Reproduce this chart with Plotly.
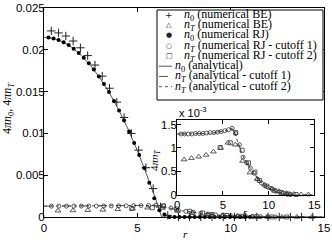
import plotly.graph_objects as go

# ---------------- data ----------------
# n0 numerical BE (+)
r_be = [0.39, 0.78, 1.17, 1.56, 1.95, 2.34, 2.73, 3.12, 3.51, 3.90, 4.29, 4.68, 5.07, 5.46, 5.85,
        6.24, 6.63, 7.2, 7.8, 8.4, 9.0, 9.6, 10.2, 10.8, 11.4, 12.0, 12.6, 13.2, 13.8, 14.4]
n0_be = [0.02226, 0.02202, 0.02165, 0.02105, 0.02024, 0.01931, 0.01818, 0.01685, 0.01540, 0.01374,
         0.01190, 0.01000, 0.00800, 0.00590, 0.00340, 0.00120, 0.00020, 0, 0, 0, 0, 0, 0, 0, 0, 0,
         0, 0, 0, 0]

# nT numerical BE (triangles)
r_tbe = [0.75, 1.55, 2.35, 3.15, 3.95, 4.75, 5.55, 6.35, 7.15, 7.95, 8.75, 9.55, 10.35, 11.15,
         11.95, 12.75, 13.55, 14.35]
nT_be = [0.00075, 0.00078, 0.00081, 0.00085, 0.00092, 0.00100, 0.00111, 0.00107, 0.00072, 0.00047,
         0.00033, 0.00021, 0.00013, 0.00007, 0.00003, 0.00001, 0, 0]

# n0 numerical RJ (filled dots)
r_rj = [0.24, 0.51, 0.78, 1.05, 1.32, 1.59, 1.86, 2.13, 2.40, 2.67, 2.94, 3.21, 3.48, 3.75, 4.02,
        4.29, 4.56, 4.83, 5.10, 5.37, 5.64, 5.91, 6.18, 6.45, 6.72, 6.99, 7.26, 7.53, 7.80, 8.07,
        8.34, 8.61, 8.88, 9.15, 9.42, 9.69, 9.96, 10.23, 10.50, 10.77, 11.04]
n0_rj = [0.02147, 0.02136, 0.02117, 0.02090, 0.02056, 0.02013, 0.01963, 0.01904, 0.01838, 0.01764,
         0.01682, 0.01592, 0.01494, 0.01388, 0.01275, 0.01153, 0.01024, 0.00886, 0.00741, 0.00585,
         0.00410, 0.00225, 0.00080, 0.00030, 0, 0, 0, 0, 0, 0, 0, 0, 0, 0, 0, 0, 0, 0, 0, 0, 0]

# nT numerical RJ cutoff 1 (open circles)
r_c1 = [0.4, 0.8, 1.2, 1.6, 2.0, 2.4, 2.8, 3.2, 3.6, 4.0, 4.4, 4.8, 5.2, 5.6, 6.0, 6.4, 6.8, 7.2,
        7.6, 8.0, 8.4, 8.8, 9.2, 9.6, 10.0, 10.4, 10.8, 11.2, 11.6, 12.0, 12.4]
nT_c1 = [0.00130, 0.00130, 0.00130, 0.00130, 0.00131, 0.00131, 0.00131, 0.00132, 0.00133, 0.00133,
         0.00134, 0.00135, 0.00137, 0.00139, 0.00142, 0.00131, 0.00107, 0.00080, 0.00068, 0.00057,
         0.00046, 0.00033, 0.00025, 0.00019, 0.00015, 0.00011, 0.00007, 0.00005, 0.00003, 0.00001, 0]

# nT numerical RJ cutoff 2 (open squares)
r_c2 = [4.7, 5.8, 6.4, 7.1, 7.8, 8.5, 9.0, 9.8, 10.6, 11.4, 12.2, 13.0]
nT_c2 = [0.00101, 0.00111, 0.00133, 0.00095, 0.00068, 0.00048, 0.00030, 0.00018, 0.00009, 0.00004,
         0.00001, 0]

# analytical n0 (solid)
r_n0a = [0, 0.5, 1, 1.5, 2, 2.5, 3, 3.5, 4, 4.5, 5, 5.5, 5.75, 6.0, 6.15, 6.3, 15]
n0_a = [0.0215, 0.02136, 0.02096, 0.02028, 0.01933, 0.01811, 0.01662, 0.01486, 0.01283, 0.01053,
        0.00796, 0.00511, 0.00359, 0.00200, 0.00101, 0, 0]

# analytical nT cutoff 1 (dashed) and cutoff 2 (dotted)
r_nTa = [0, 1, 2, 3, 4, 5, 5.5, 5.8, 6.0, 6.2, 6.5, 7, 7.5, 8, 8.5, 9, 9.5, 10, 10.5, 11, 11.5,
         12, 13, 15]
nT_a1 = [0.00130, 0.00130, 0.00131, 0.00131, 0.00133, 0.00136, 0.00138, 0.00141, 0.00142, 0.00137,
         0.00122, 0.00092, 0.00072, 0.00057, 0.00043, 0.00030, 0.00021, 0.00014, 0.00009, 0.00005,
         0.000025, 0.00001, 0, 0]
nT_a2 = [0.00130, 0.00130, 0.00130, 0.00131, 0.00132, 0.00135, 0.00137, 0.00139, 0.00140, 0.00136,
         0.00120, 0.00090, 0.00070, 0.00055, 0.00042, 0.00029, 0.00020, 0.00014, 0.00009, 0.00005,
         0.000025, 0.00001, 0, 0]

x_ticks = [0, 5, 10, 15]
y_ticks = [0, 0.005, 0.01, 0.015, 0.02, 0.025]
inset_yticks = [0, 0.0005, 0.001, 0.0015]
inset_yticktext = ["0", "0.5", "1", "1.5"]

legend_labels = [
    "<i>n</i><sub>0</sub> (numerical BE)",
    "<i>n<sub>T</sub></i> (numerical BE)",
    "<i>n</i><sub>0</sub> (numerical RJ)",
    "<i>n<sub>T</sub></i> (numerical RJ - cutoff 1)",
    "<i>n<sub>T</sub></i> (numerical RJ - cutoff 2)",
    "<i>n</i><sub>0</sub> (analytical)",
    "<i>n<sub>T</sub></i> (analytical - cutoff 1)",
    "<i>n<sub>T</sub></i> (analytical - cutoff 2)",
]
legend_symbols = ["+", "\u25b3", "\u25cf", "\u25cb", "\u25a1", None, None, None]
legend_dashes = [None, None, None, None, None, "solid", "dash", "dot"]

# ---------------- figure ----------------
W, H = 332, 240
ML, MR, MT, MB = 44, 8, 8, 23
PW, PH = W - ML - MR, H - MT - MB


def px(x):
    return (x - ML) / PW


def py(y):
    return (H - MB - y) / PH


LINEC = "#555555"
SANS = "Liberation Sans, Arial, sans-serif"
SERIF = "Liberation Serif, Times New Roman, serif"

fig = go.Figure()


def add_series(xa, ya):
    if xa == "x":
        fig.add_trace(go.Scatter(x=r_n0a, y=n0_a, mode="lines", line=dict(color=LINEC, width=1),
                                 xaxis=xa, yaxis=ya, showlegend=False, cliponaxis=False))
    fig.add_trace(go.Scatter(x=r_nTa, y=nT_a1, mode="lines", line=dict(color=LINEC, width=1, dash="dash"),
                             xaxis=xa, yaxis=ya, showlegend=False, cliponaxis=False))
    fig.add_trace(go.Scatter(x=r_nTa, y=nT_a2, mode="lines", line=dict(color=LINEC, width=1, dash="dot"),
                             xaxis=xa, yaxis=ya, showlegend=False, cliponaxis=False))
    if xa == "x":
        fig.add_trace(go.Scatter(x=r_be, y=n0_be, mode="markers",
                                 marker=dict(symbol="cross-thin", size=6, line=dict(color="#222", width=1)),
                                 xaxis=xa, yaxis=ya, showlegend=False, cliponaxis=False))
        fig.add_trace(go.Scatter(x=r_rj, y=n0_rj, mode="markers",
                                 marker=dict(symbol="circle", size=4, color="black"),
                                 xaxis=xa, yaxis=ya, showlegend=False, cliponaxis=False))
    fig.add_trace(go.Scatter(x=r_tbe, y=nT_be, mode="markers",
                             marker=dict(symbol="triangle-up-open", size=5, color="#333",
                                         line=dict(width=0.8)),
                             xaxis=xa, yaxis=ya, showlegend=False, cliponaxis=False))
    fig.add_trace(go.Scatter(x=r_c1, y=nT_c1, mode="markers",
                             marker=dict(symbol="circle-open", size=4, color="#333",
                                         line=dict(width=0.8)),
                             xaxis=xa, yaxis=ya, showlegend=False, cliponaxis=False))
    fig.add_trace(go.Scatter(x=r_c2, y=nT_c2, mode="markers",
                             marker=dict(symbol="square-open", size=4, color="#333",
                                         line=dict(width=0.8)),
                             xaxis=xa, yaxis=ya, showlegend=False, cliponaxis=False))


add_series("x", "y")
add_series("x2", "y2")

axis_common = dict(ticks="inside", ticklen=4, tickcolor="black", showline=True, linecolor="black",
                   linewidth=1, mirror="allticks", showgrid=False, zeroline=False, automargin=False,
                   tickfont=dict(family=SANS, size=11.5, color="black"))

fig.update_layout(
    width=W, height=H,
    margin=dict(l=ML, r=MR, t=MT, b=MB, pad=0),
    plot_bgcolor="white", paper_bgcolor="white",
    showlegend=False,
    xaxis=dict(domain=[0, 1], range=[0, 15], tickvals=x_ticks, **axis_common),
    yaxis=dict(domain=[0, 1], range=[0, 0.025], tickvals=y_ticks, ticklabelstandoff=-4,
               **axis_common),
    xaxis2=dict(domain=[px(177.3), px(314.3)], range=[0, 15], tickvals=x_ticks, anchor="y2",
                **axis_common),
    yaxis2=dict(domain=[py(194.5), py(120)], range=[0, 0.0016], tickvals=inset_yticks,
                ticktext=inset_yticktext, anchor="x2", ticklabelstandoff=-3, **axis_common),
)


def note(text, x, y, size=11, family=SERIF, xanchor="center", angle=0):
    return dict(text=text, x=px(x), y=py(y), xref="paper", yref="paper", showarrow=False,
                xanchor=xanchor, yanchor="middle", textangle=angle,
                font=dict(family=family, size=size, color="black"))


ann = []
shapes = []
# axis titles
ann.append(note("<i>r</i>", 185, 234))
ann.append(note("4<i>\u03c0n</i><sub>0</sub>, 4<i>\u03c0n<sub>T</sub></i>", 8, 108, size=12, angle=-90))
ann.append(note("4<i>\u03c0n<sub>T</sub></i>", 155, 160, angle=-90))
ann.append(note("<i>r</i>", 245, 212, size=10))
ann.append(note("x 10<sup>-3</sup>", 177, 112, family=SANS, xanchor="left"))

# legend box
shapes.append(dict(type="rect", xref="paper", yref="paper", x0=px(157), x1=px(323), y0=py(100),
                   y1=py(10), line=dict(color="black", width=1), fillcolor="white", layer="above"))
for i, lab in enumerate(legend_labels):
    yc = 15 + 10.24 * i
    sym = legend_symbols[i]
    if sym is not None:
        a = note(sym, 169, yc, size=7 if sym != "+" else 9, family="DejaVu Sans")
        a["font"]["color"] = "#222"
        ann.append(a)
        tx = 182
    else:
        shapes.append(dict(type="line", xref="paper", yref="paper", x0=px(159), x1=px(172),
                           y0=py(yc), y1=py(yc), line=dict(color=LINEC, width=1, dash=legend_dashes[i]),
                           layer="above"))
        tx = 173
    ann.append(note(lab, tx, yc, size=12, xanchor="left"))

fig.update_layout(annotations=ann, shapes=shapes)
fig.write_html("out.html", config={"displayModeBar": False},
               post_script="document.body.style.margin='0';document.body.style.padding='0';")
